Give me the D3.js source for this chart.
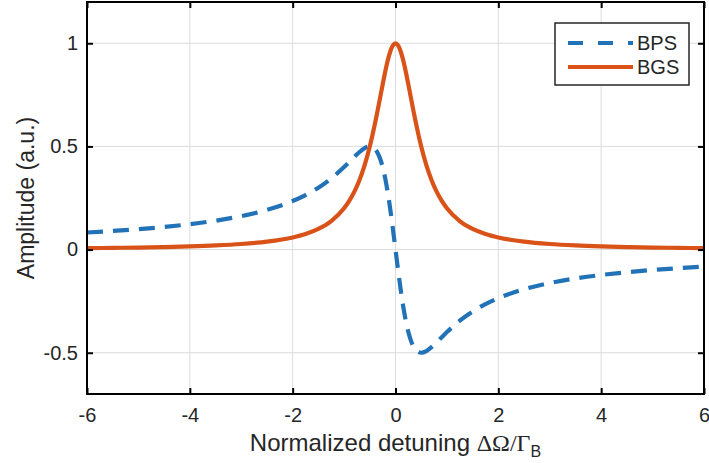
<!DOCTYPE html>
<html><head><meta charset="utf-8">
<script src="https://cdn.jsdelivr.net/npm/d3@7"></script>
<style>body{margin:0;background:#fff}svg{display:block}text{font-family:"Liberation Sans",Arial,sans-serif;fill:#262626}</style>
</head><body><svg id="c" width="709" height="463"></svg>
<script>
const xValues = [-6,-5.5,-5,-4.5,-4,-3.5,-3,-2.5,-2,-1.75,-1.5,-1.25,-1,-0.9,-0.8,-0.7,-0.6,-0.5,-0.45,-0.4,-0.35,-0.3,-0.25,-0.2,-0.15,-0.1,-0.05,0,
  0.05,0.1,0.15,0.2,0.25,0.3,0.35,0.4,0.45,0.5,0.6,0.7,0.8,0.9,1,1.25,1.5,1.75,2,2.5,3,3.5,4,4.5,5,5.5,6];
const bgsValues = [0.0069,0.0082,0.0099,0.0122,0.0154,0.02,0.027,0.0385,0.0588,0.0755,0.1,0.1379,0.2,0.2358,0.2809,0.3378,0.4098,0.5,0.5525,0.6098,0.6711,0.7353,0.8,0.8621,0.9174,0.9615,0.9901,1,
  0.9901,0.9615,0.9174,0.8621,0.8,0.7353,0.6711,0.6098,0.5525,0.5,0.4098,0.3378,0.2809,0.2358,0.2,0.1379,0.1,0.0755,0.0588,0.0385,0.027,0.02,0.0154,0.0122,0.0099,0.0082,0.0069];
const bpsValues = [0.0828,0.0902,0.099,0.1098,0.1231,0.14,0.1622,0.1923,0.2353,0.2642,0.3,0.3448,0.4,0.4245,0.4494,0.473,0.4918,0.5,0.4972,0.4878,0.4698,0.4412,0.4,0.3448,0.2752,0.1923,0.099,0,
  -0.099,-0.1923,-0.2752,-0.3448,-0.4,-0.4412,-0.4698,-0.4878,-0.4972,-0.5,-0.4918,-0.473,-0.4494,-0.4245,-0.4,-0.3448,-0.3,-0.2642,-0.2353,-0.1923,-0.1622,-0.14,-0.1231,-0.1098,-0.099,-0.0902,-0.0828];
const xTicks = [-6,-4,-2,0,2,4,6];
const xTickLabels = ["-6","-4","-2","0","2","4","6"];
const yTicks = [-0.5,0,0.5,1];
const yTickLabels = ["-0.5","0","0.5","1"];
const seriesNames = ["BPS","BGS"];
const colors = ["#2272b8","#d95319"];

const svg = d3.select("#c");
const L=87, R=704, T=2, B=394;
const x = d3.scaleLinear().domain([-6,6]).range([L,R]);
const y = d3.scaleLinear().domain([-0.7,1.2]).range([B,T]);

// grid
svg.append("g").selectAll("line").data(xTicks).join("line")
  .attr("x1",d=>x(d)).attr("x2",d=>x(d)).attr("y1",T).attr("y2",B)
  .attr("stroke","#dcdcdc").attr("stroke-width",1);
svg.append("g").selectAll("line").data(yTicks).join("line")
  .attr("y1",d=>y(d)).attr("y2",d=>y(d)).attr("x1",L).attr("x2",R)
  .attr("stroke","#dcdcdc").attr("stroke-width",1);

const pts = xValues.map((v,i)=>({x:v,bgs:bgsValues[i],bps:bpsValues[i]}));
svg.append("clipPath").attr("id","cp").append("rect").attr("x",L).attr("y",T).attr("width",R-L).attr("height",B-T);

const lineBPS = d3.line().x(d=>x(d.x)).y(d=>y(d.bps)).curve(d3.curveMonotoneX);
const lineBGS = d3.line().x(d=>x(d.x)).y(d=>y(d.bgs)).curve(d3.curveMonotoneX);
const g = svg.append("g").attr("clip-path","url(#cp)");
g.append("path").datum(pts).attr("d",lineBPS).attr("fill","none").attr("stroke",colors[0])
  .attr("stroke-width",4.2).attr("stroke-dasharray","16,10");
g.append("path").datum(pts).attr("d",lineBGS).attr("fill","none").attr("stroke",colors[1])
  .attr("stroke-width",4.2);

// axes
const ax = svg.append("g").attr("transform",`translate(0,${B})`)
  .call(d3.axisBottom(x).tickValues(xTicks).tickSizeInner(-6).tickSizeOuter(0).tickPadding(14).tickFormat((d,i)=>xTickLabels[i]));
const axT = svg.append("g").attr("transform",`translate(0,${T})`)
  .call(d3.axisTop(x).tickValues(xTicks).tickSizeInner(-6).tickSizeOuter(0).tickFormat(""));
const ay = svg.append("g").attr("transform",`translate(${L},0)`)
  .call(d3.axisLeft(y).tickValues(yTicks).tickSizeInner(-6).tickSizeOuter(0).tickPadding(9).tickFormat((d,i)=>yTickLabels[i]));
const ayR = svg.append("g").attr("transform",`translate(${R},0)`)
  .call(d3.axisRight(y).tickValues(yTicks).tickSizeInner(-6).tickSizeOuter(0).tickFormat(""));
[ax,axT,ay,ayR].forEach(a=>{
  a.select(".domain").remove();
  a.selectAll(".tick line").attr("stroke","#000").attr("stroke-width",2);
  a.selectAll("text").attr("font-size",20).attr("fill","#262626").style("font-family","Liberation Sans, Arial, sans-serif");
});
svg.append("rect").attr("x",L).attr("y",T).attr("width",R-L).attr("height",B-T)
  .attr("fill","none").attr("stroke","#000").attr("stroke-width",2);

// labels
const xl = svg.append("text").attr("x",(L+R)/2).attr("y",451).attr("text-anchor","middle").attr("font-size",24);
xl.append("tspan").text("Normalized detuning ");
xl.append("tspan").style("font-family","Liberation Serif, Times New Roman, serif").text("ΔΩ/Γ");
xl.append("tspan").attr("font-size",16).attr("dy",6).text("B");
svg.append("text").attr("transform",`translate(34,${(T+B)/2}) rotate(-90)`).attr("text-anchor","middle")
  .attr("font-size",23).text("Amplitude (a.u.)");

// legend
const lg = svg.append("g");
lg.append("rect").attr("x",555).attr("y",23).attr("width",134).attr("height",62)
  .attr("fill","#fff").attr("stroke","#262626").attr("stroke-width",1.5);
seriesNames.forEach((n,i)=>{
  const yy = 43 + i*24;
  lg.append("line").attr("x1",568).attr("x2",633).attr("y1",yy).attr("y2",yy)
    .attr("stroke",colors[i]).attr("stroke-width",4)
    .attr("stroke-dasharray", i===0 ? "15,15" : null);
  lg.append("text").attr("x",637).attr("y",yy+7).attr("font-size",20).text(n);
});
</script></body></html>
